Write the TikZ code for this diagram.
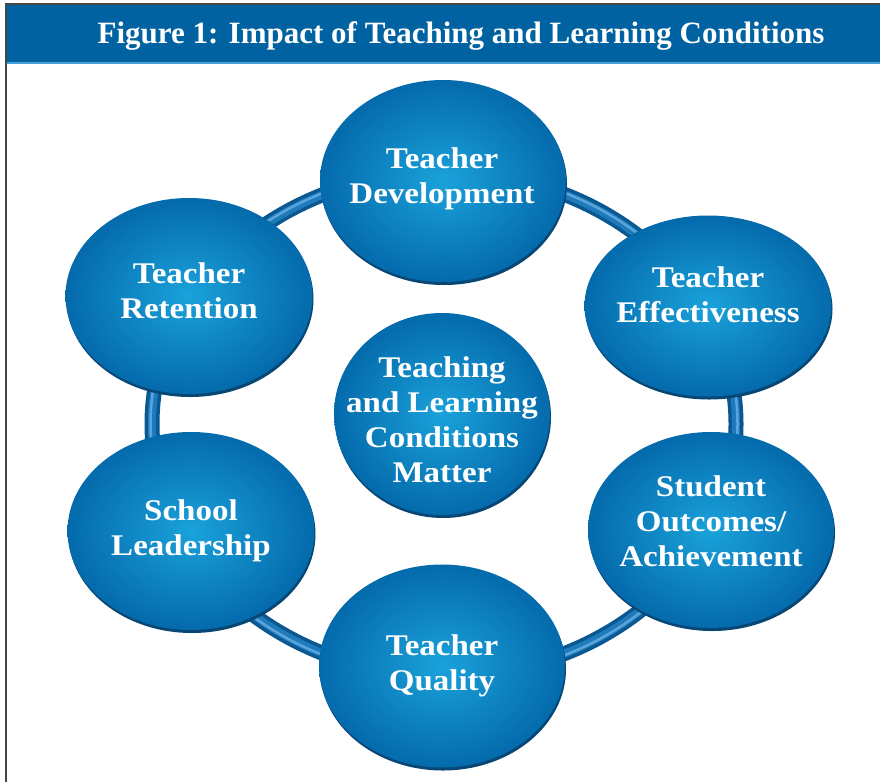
\documentclass[tikz,border=0pt]{standalone}
\usepackage{fontspec}
\setmainfont{Liberation Serif}
\newfontfamily\bubblefont[FakeStretch=1.10]{Liberation Serif}
\usetikzlibrary{shapes.geometric,shadows}

\definecolor{headblue}{RGB}{0,98,160}
\definecolor{headline}{RGB}{70,160,215}
\definecolor{framegray}{RGB}{70,70,70}
\definecolor{bubblein}{RGB}{26,162,218}
\definecolor{bubbleout}{RGB}{4,106,172}
\definecolor{bubblerim}{RGB}{8,70,116}
\definecolor{tubedark}{RGB}{10,88,146}
\definecolor{tubemid}{RGB}{30,122,186}
\definecolor{tubelight}{RGB}{90,165,220}

\begin{document}
\begin{tikzpicture}[x=1pt,y=-1pt,
  bubble/.style 2 args={ellipse, inner sep=0pt,
    minimum width=#1pt, minimum height=#2pt,
    shading=radial, inner color=bubblein, outer color=bubbleout,
    general shadow={fill=bubblerim, shadow yshift=-3pt, shadow xshift=1pt}},
  caption/.style={text=white, align=center, inner sep=0pt,
    font=\bubblefont\bfseries\fontsize{30}{35}\selectfont},
  tube/.style={line width=#1},
]
\useasboundingbox (0,0) rectangle (880,782);
\fill[white] (0,0) rectangle (880,782);

% title band and frame
\fill[headblue] (6,4) rectangle (880,62);
\draw[headline, line width=2pt] (7,62.5) -- (880,62.5);
\draw[framegray, line width=2pt] (5,4) -- (880,4);
\draw[framegray, line width=2pt] (6,4) -- (6,782);
\node[text=white, anchor=base, inner sep=0pt,
      font=\bfseries\fontsize{31}{36}\selectfont] (title) at (461,43)
  {Figure 1: Impact of Teaching and Learning Conditions};

% connecting ring behind the bubbles
\coordinate (ringc) at (444,424);
\draw[tubedark, tube=15pt] (ringc) ellipse [x radius=292, y radius=252];
\draw[tubemid, tube=8pt] (ringc) ellipse [x radius=292, y radius=252];
\draw[tubelight, tube=2.5pt] (ringc) ellipse [x radius=293.5, y radius=253.5];

% bubbles
\node[bubble={246}{202}] (dev)  at (443,181) {};
\node[bubble={247}{196}] (ret)  at (189,296) {};
\node[bubble={247}{181}] (eff)  at (708,306) {};
\node[bubble={216}{202}] (core) at (442,414) {};
\node[bubble={247}{198}] (lead) at (191,531) {};
\node[bubble={246}{196}] (stud) at (711,530) {};
\node[bubble={246}{203}] (qual) at (442,666) {};

% captions
\node[caption] (dev-t)  at (442,178.6) {Teacher\\Development};
\node[caption] (ret-t)  at (189,291)   {Teacher\\Retention};
\node[caption] (eff-t)  at (708,294.5) {Teacher\\Effectiveness};
\node[caption] (core-t) at (442,419.3) {Teaching\\and Learning\\Conditions\\Matter};
\node[caption] (lead-t) at (191,530.6) {School\\Leadership};
\node[caption] (stud-t) at (711,521.4) {Student\\Outcomes/\\Achievement};
\node[caption] (qual-t) at (442,665.6) {Teacher\\Quality};
\end{tikzpicture}
\end{document}
